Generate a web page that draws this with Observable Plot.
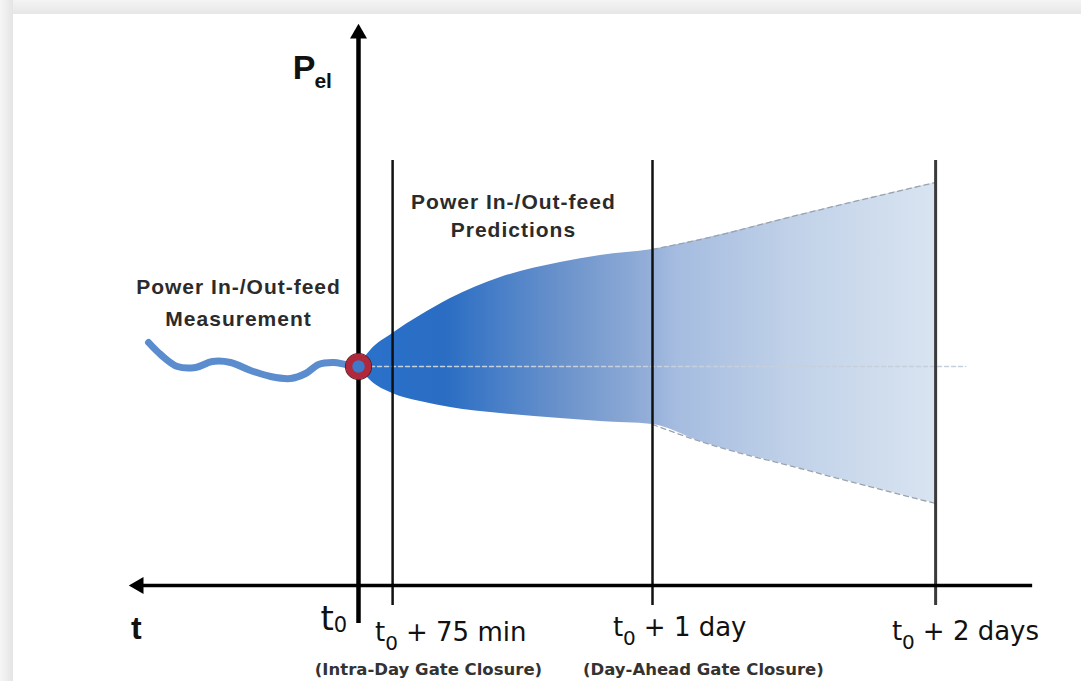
<!DOCTYPE html>
<html>
<head>
<meta charset="utf-8">
<script src="https://cdn.jsdelivr.net/npm/d3@7"></script>
<script src="https://cdn.jsdelivr.net/npm/@observablehq/plot@0.6"></script>
<style>
  html, body { margin: 0; padding: 0; width: 1081px; height: 681px; overflow: hidden; background: #fff; }
  #bgTop { position: absolute; left: 0; top: 0; width: 1081px; height: 14px; background: linear-gradient(#f4f4f4, #e6e6e6); }
  #bgLeft { position: absolute; left: 0; top: 0; width: 13px; height: 681px; background: linear-gradient(90deg, #f6f6f6, #e4e4e4); }
  #chart { position: absolute; left: 0; top: 0; }
</style>
</head>
<body>
<div id="bgTop"></div>
<div id="bgLeft"></div>
<div id="chart"></div>
<script>
// ---- data (schematic units: x = time from t0, y = power deviation) ----
const fanX   = [0, 0.041, 0.116, 0.211, 0.313, 0.483, 0.687, 0.823, 1.0, 1.163, 1.503, 1.963];
const fanHi  = [0, 0.16, 0.33, 0.51, 0.68, 0.89, 1.04, 1.11, 1.17, 1.27, 1.52, 1.84];
const fanLo  = [0, -0.14, -0.27, -0.35, -0.41, -0.47, -0.52, -0.55, -0.58, -0.75, -1.02, -1.37];

const waveX = [-0.714, -0.673, -0.616, -0.554, -0.497, -0.435, -0.367, -0.299, -0.231, -0.180, -0.136, -0.085, -0.044, 0];
const waveY = [0.24, 0.12, 0.0, -0.01, 0.05, 0.04, -0.04, -0.10, -0.12, -0.07, 0.02, 0.04, 0.02, 0];

const baselineX = [0.041, 2.065];

const gatePos = [0.116, 1.0, 1.963];
const gateSpan = [-2.39, 2.06];

const yAxisSpan = [-2.57, 3.28];
const yArrowTip = 3.33;
const xAxisLevel = -2.19;
const xAxisSpan = [-0.748, 2.293];

const tickLabelText = ["", "+ 75 min", "+ 1 day", "+ 2 days"];
const tickLabelX = [-0.037, 0.058, 0.867, 1.816];
const tickLabelY = [-2.64, -2.75, -2.70, -2.74];

const noteText = ["(Intra-Day Gate Closure)", "(Day-Ahead Gate Closure)"];
const noteX = [0.238, 1.173];
const noteY = [-3.08, -3.08];

const annText = ["Power In-/Out-feed\nMeasurement", "Power In-/Out-feed\nPredictions"];
const annX = [-0.408, 0.527];
const annY = [0.41, 1.30];

const axisT = {text: "t", x: -0.774, y: -2.72};
const axisP = {text: "P", sub: "el", x: -0.224, y: 2.88, subX: -0.150, subY: 2.79};

// ---- tables built from the arrays ----
const fan = fanX.map((x, i) => ({x, hi: fanHi[i], lo: fanLo[i]}));
const fanRight = fan.filter(d => d.x >= 1);
const wave = waveX.map((x, i) => ({x, y: waveY[i]}));
const baseline = baselineX.map(x => ({x, y: 0}));
const annotations = annText.map((t, i) => ({t, x: annX[i], y: annY[i]}));
const notes = noteText.map((t, i) => ({t, x: noteX[i], y: noteY[i]}));

const ns = "http://www.w3.org/2000/svg";
function el(name, attrs) {
  const e = document.createElementNS(ns, name);
  for (const k in attrs) e.setAttribute(k, attrs[k]);
  return e;
}

function gradientDefs() {
  const defs = el("defs", {});
  const g = el("linearGradient", {id: "fanGrad", x1: "0", x2: "1", y1: "0", y2: "0"});
  [[0, "#2a72cc"], [0.15, "#2a6dc3"], [0.25, "#4a80c8"], [0.35, "#6a92cb"],
   [0.5, "#92add7"], [0.55, "#a5bce0"], [0.75, "#c0d1e8"], [1, "#d9e4f1"]]
    .forEach(([o, c]) => g.appendChild(el("stop", {offset: o, "stop-color": c})));
  defs.appendChild(g);
  return defs;
}

function tickLabels(index, scales) {
  const g = el("g", {});
  tickLabelText.forEach((rest, i) => {
    const big = i === 0;
    const t = el("text", {
      x: scales.x(tickLabelX[i]), y: scales.y(tickLabelY[i]),
      "font-family": "DejaVu Sans", "font-size": big ? 34 : 26, fill: "#111",
      "text-anchor": big ? "end" : "start"
    });
    const a = el("tspan", {}); a.textContent = "t"; t.appendChild(a);
    const b = el("tspan", {"font-size": big ? 21 : 20, dy: big ? 2 : 9}); b.textContent = "0"; t.appendChild(b);
    if (rest) {
      const c = el("tspan", {dy: -9, dx: 8}); c.textContent = rest; t.appendChild(c);
    }
    g.appendChild(t);
  });
  return g;
}

const chart = Plot.plot({
  width: 1081,
  height: 681,
  margin: 0,
  x: {domain: [-1.21769, 2.45918], axis: null},
  y: {domain: [-3.15, 3.66], axis: null},
  style: {background: "none", overflow: "visible"},
  marks: [
    gradientDefs,
    Plot.areaY(fan, {x: "x", y1: "lo", y2: "hi", fill: "url(#fanGrad)", curve: "monotone-x"}),
    Plot.line(fanRight, {x: "x", y: "hi", stroke: "#9aa2ac", strokeWidth: 1.3, strokeDasharray: "5,4", curve: "monotone-x"}),
    Plot.line(fanRight, {x: "x", y: "lo", stroke: "#9aa2ac", strokeWidth: 1.3, strokeDasharray: "5,4", curve: "monotone-x"}),
    Plot.line(baseline, {x: "x", y: "y", stroke: "#c6d0dc", strokeWidth: 1.5, strokeDasharray: "4,3"}),
    Plot.ruleX(gatePos.slice(0, 2), {y1: gateSpan[0], y2: gateSpan[1], stroke: "#111", strokeWidth: 2.5}),
    Plot.ruleX(gatePos.slice(2), {y1: gateSpan[0], y2: gateSpan[1], stroke: "#3a3a3a", strokeWidth: 3}),
    Plot.ruleX([0], {y1: yAxisSpan[0], y2: yAxisSpan[1], stroke: "#000", strokeWidth: 4.5}),
    Plot.dot([{x: 0, y: yArrowTip}], {x: "x", y: "y", symbol: "triangle", r: 6.3, fill: "#000", stroke: "none"}),
    Plot.ruleY([xAxisLevel], {x1: xAxisSpan[0], x2: xAxisSpan[1], stroke: "#000", strokeWidth: 3.5}),
    Plot.dot([{x: xAxisSpan[0], y: xAxisLevel}], {x: "x", y: "y", symbol: "triangle", r: 6.3, rotate: -90, fill: "#000", stroke: "none"}),
    Plot.line(wave, {x: "x", y: "y", stroke: "#5b8cce", strokeWidth: 7, curve: "catmull-rom", strokeLinecap: "round"}),
    Plot.dot([{x: 0, y: 0}], {x: "x", y: "y", r: 13, fill: "none", stroke: "#5a1a24", strokeWidth: 1.2}),
    Plot.dot([{x: 0, y: 0}], {x: "x", y: "y", r: 9.5, fill: "#3f78c6", stroke: "#b0283a", strokeWidth: 6.5}),
    Plot.text(annotations.slice(0, 1),
      {x: "x", y: "y", text: "t", fontFamily: "Liberation Sans", fontWeight: "bold", fontSize: 21, fill: "#2b2b2b", lineAnchor: "bottom", lineHeight: 1.52}),
    Plot.text(annotations.slice(1),
      {x: "x", y: "y", text: "t", fontFamily: "Liberation Sans", fontWeight: "bold", fontSize: 21, fill: "#2b2b2b", lineAnchor: "bottom", lineHeight: 1.33}),
    Plot.text(notes,
      {x: "x", y: "y", text: "t", fontFamily: "DejaVu Sans", fontWeight: "bold", fontSize: 16.5, fill: "#333", lineAnchor: "bottom"}),
    Plot.text([axisT], {x: "x", y: "y", text: "text", fontFamily: "Liberation Sans", fontWeight: "bold", fontSize: 32, fill: "#111", textAnchor: "start", lineAnchor: "bottom"}),
    Plot.text([axisP], {x: "x", y: "y", text: "text", fontFamily: "Liberation Sans", fontWeight: "bold", fontSize: 34, fill: "#111", textAnchor: "start", lineAnchor: "bottom"}),
    Plot.text([axisP], {x: "subX", y: "subY", text: "sub", fontFamily: "Liberation Sans", fontWeight: "bold", fontSize: 21, fill: "#111", textAnchor: "start", lineAnchor: "bottom"}),
    tickLabels
  ]
});

d3.select(chart).selectAll("text").filter(function () {
  return this.textContent.indexOf("Power") === 0;
}).attr("letter-spacing", 1);

document.getElementById("chart").appendChild(chart);
</script>
</body>
</html>
